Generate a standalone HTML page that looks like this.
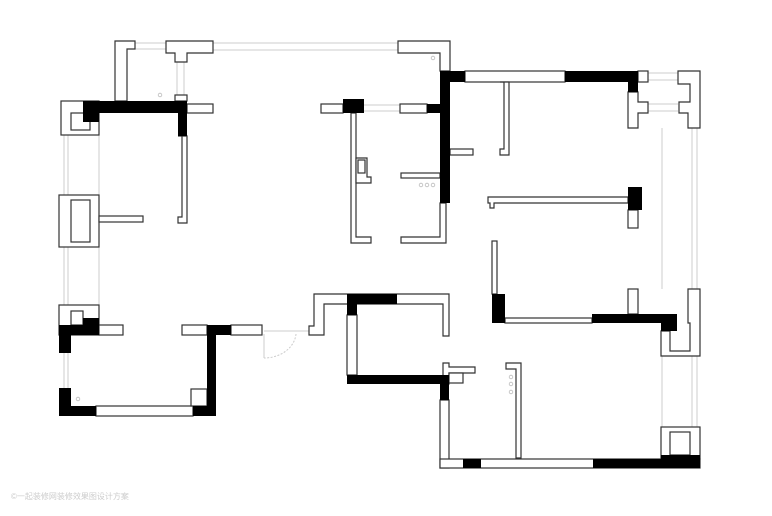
<!DOCTYPE html>
<html><head><meta charset="utf-8"><style>
html,body{margin:0;padding:0;background:#fff;width:772px;height:516px;overflow:hidden}
svg{display:block}
</style></head><body>
<svg width="772" height="516" viewBox="0 0 772 516" xmlns="http://www.w3.org/2000/svg">
<g fill="none" stroke="#ccc" stroke-width="1">
<line x1="213" y1="43" x2="398" y2="43"/><line x1="213" y1="50" x2="398" y2="50"/>
<line x1="135" y1="43" x2="166" y2="43"/><line x1="135" y1="49" x2="166" y2="49"/>
<line x1="177" y1="62" x2="177" y2="95"/><line x1="184" y1="62" x2="184" y2="95"/>
<line x1="64" y1="135" x2="64" y2="305"/><line x1="68" y1="135" x2="68" y2="305"/><line x1="99" y1="135" x2="99" y2="195"/><line x1="99" y1="247" x2="99" y2="305"/>
<line x1="64" y1="353" x2="64" y2="388"/><line x1="68" y1="353" x2="68" y2="388"/>
<line x1="364" y1="105" x2="400" y2="105"/><line x1="364" y1="111" x2="400" y2="111"/>
<line x1="648" y1="73" x2="678" y2="73"/><line x1="648" y1="80" x2="678" y2="80"/>
<line x1="648" y1="104" x2="678" y2="104"/><line x1="648" y1="111" x2="678" y2="111"/>
<line x1="692" y1="128" x2="692" y2="289"/><line x1="697" y1="128" x2="697" y2="289"/><line x1="662" y1="128" x2="662" y2="289"/>
<line x1="692" y1="356" x2="692" y2="427"/><line x1="697" y1="356" x2="697" y2="427"/><line x1="662" y1="356" x2="662" y2="427"/>
<line x1="264" y1="331" x2="309" y2="331"/><line x1="264" y1="334" x2="264" y2="358"/>
<path d="M296,334 A32,26 0 0 1 264,358" stroke-dasharray="2,1.5"/>
</g>
<g fill="#fff" stroke="#333" stroke-width="1.2">
<path d="M115,41H135V49H127V101H115Z"/>
<path d="M166,41H213V53H187V62H175V53H166Z"/>
<path d="M398,41H450V71H440V53H398Z"/>
<rect x="61" y="101" width="38" height="34"/><rect x="71" y="113" width="19" height="17"/>
<rect x="175" y="95" width="12" height="6"/><rect x="187" y="104" width="26" height="9"/>
<path d="M178,136H187V223H178V217H182V136Z"/>
<rect x="59" y="195" width="40" height="52"/><rect x="71" y="200" width="19" height="42"/>
<rect x="99" y="216" width="44" height="6"/>
<rect x="321" y="104" width="22" height="9"/><rect x="400" y="104" width="27" height="9"/>
<path d="M351,113H356V237H371V243H351Z"/>
<path d="M356,158H367V177H371V183H356Z"/><rect x="358" y="160" width="7" height="13"/>
<rect x="401" y="173" width="39" height="5"/>
<path d="M440,203H446V243H401V237H440Z"/>
<rect x="465" y="71" width="100" height="11"/>
<rect x="638" y="71" width="10" height="11"/>
<path d="M628,92H638V102H648V113H638V128H628Z"/>
<path d="M678,71H700V128H688V113H679V102H690V84H678Z"/>
<path d="M500,82H509V155H500V149H504V82Z"/>
<rect x="450" y="149" width="23" height="6"/>
<path d="M488,197H628V203H494V208H490V203H488Z"/>
<rect x="628" y="210" width="10" height="18"/>
<rect x="492" y="241" width="5" height="53"/>
<rect x="505" y="318" width="87" height="5"/>
<rect x="628" y="289" width="10" height="25"/>
<path d="M688,289H700V356H661V331H670V351H690V323H688Z"/>
<rect x="59" y="305" width="40" height="30"/><rect x="71" y="311" width="12" height="14"/>
<rect x="99" y="325" width="24" height="10"/>
<rect x="182" y="325" width="25" height="10"/><rect x="231" y="325" width="31" height="10"/>
<rect x="96" y="406" width="97" height="10"/><rect x="191" y="389" width="16" height="17"/>
<path d="M314,294H449V336H443V304H324V335H309V326H314Z"/>
<rect x="347" y="315" width="10" height="60"/>
<path d="M443,363H449V367H475V373H449V384H443Z"/><rect x="449" y="373" width="14" height="10"/>
<path d="M506,363H521V458H516V369H506Z"/>
<rect x="440" y="400" width="9" height="68"/>
<rect x="440" y="459" width="260" height="9"/>
<rect x="661" y="427" width="39" height="32"/><rect x="670" y="432" width="20" height="23"/>
</g>
<g fill="#000">
<rect x="83" y="101" width="104" height="12"/><rect x="83" y="113" width="16" height="9"/>
<rect x="178" y="113" width="9" height="23"/>
<rect x="343" y="99" width="21" height="14"/><rect x="427" y="104" width="13" height="9"/>
<rect x="440" y="71" width="10" height="132"/><rect x="450" y="71" width="15" height="11"/>
<rect x="565" y="71" width="73" height="11"/><rect x="628" y="82" width="10" height="10"/>
<rect x="628" y="187" width="14" height="23"/>
<rect x="492" y="294" width="13" height="29"/>
<rect x="592" y="314" width="85" height="9"/><rect x="661" y="323" width="16" height="8"/>
<rect x="59" y="325" width="12" height="28"/><rect x="71" y="325" width="28" height="10"/><rect x="83" y="318" width="16" height="7"/>
<rect x="207" y="325" width="24" height="10"/><rect x="207" y="335" width="9" height="81"/>
<rect x="193" y="406" width="14" height="10"/>
<rect x="59" y="388" width="12" height="28"/><rect x="71" y="406" width="25" height="10"/>
<rect x="347" y="294" width="50" height="10"/><rect x="347" y="304" width="10" height="11"/>
<rect x="347" y="375" width="102" height="9"/><rect x="440" y="384" width="9" height="16"/>
<rect x="463" y="459" width="18" height="9"/>
<rect x="593" y="459" width="107" height="9"/><rect x="661" y="455" width="39" height="4"/>
</g>
<g fill="none" stroke="#bbb" stroke-width="0.8">
<circle cx="421" cy="185" r="1.8"/><circle cx="427" cy="185" r="1.8"/><circle cx="433" cy="185" r="1.8"/>
<circle cx="511" cy="377" r="1.8"/><circle cx="511" cy="384" r="1.8"/><circle cx="511" cy="392" r="1.8"/>
<circle cx="160" cy="95" r="1.8"/><circle cx="433" cy="58" r="1.8"/><circle cx="78" cy="399" r="1.8"/>
</g>
<text x="11" y="499" font-family="Liberation Sans, Noto Sans CJK SC, sans-serif" font-size="8" fill="#ccc">©一起装修网装修效果图设计方案</text>
</svg>
</body></html>
